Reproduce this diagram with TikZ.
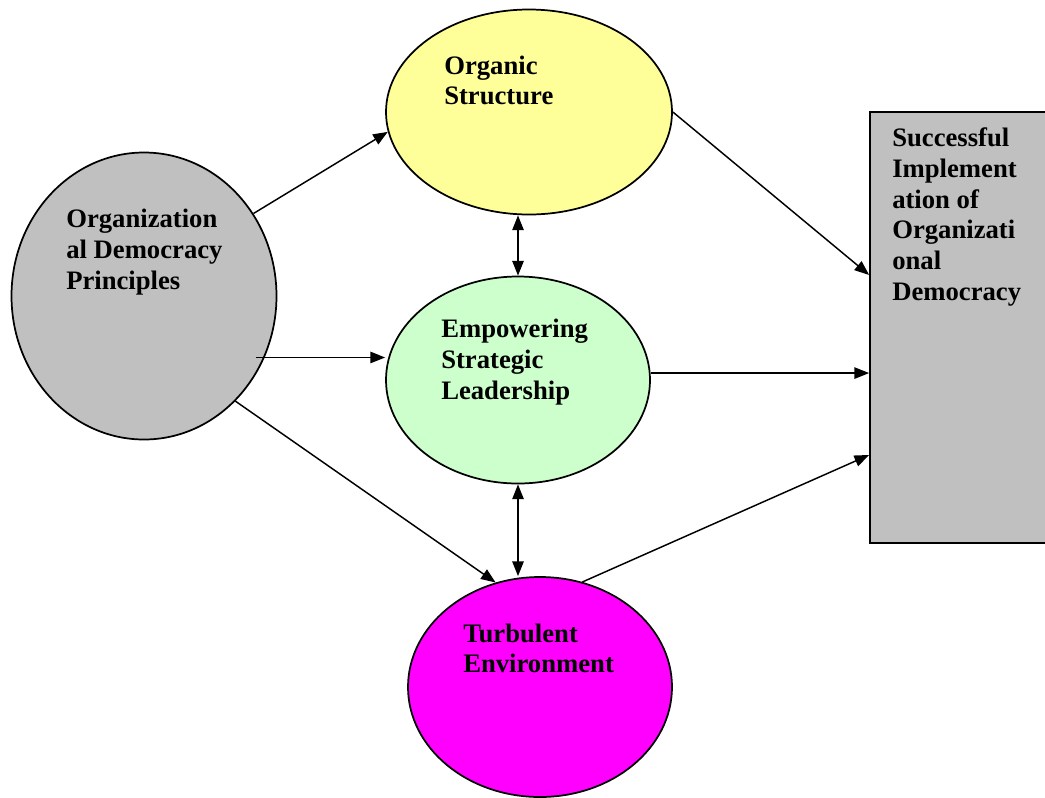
\documentclass[tikz,border=0pt]{standalone}
\usepackage{fontspec}
\setmainfont{Liberation Serif}
\usetikzlibrary{shapes.geometric}
\usetikzlibrary{arrows.meta}

\definecolor{demgrey}{RGB}{192,192,192}
\definecolor{orgyellow}{RGB}{255,255,153}
\definecolor{eslgreen}{RGB}{204,255,204}
\definecolor{envmagenta}{RGB}{255,0,255}

\tikzset{
  bubble/.style={draw, ellipse, line width=1.3pt, inner sep=0pt},
  link/.style={line width=1.1pt, -{Triangle[length=11pt,width=8.5pt]}},
  twoway/.style={line width=1.1pt, {Triangle[length=11pt,width=8.5pt]}-{Triangle[length=11pt,width=8.5pt]}},
  txt/.style={anchor=base west, inner sep=0pt, align=left, font=\fontsize{20}{23}\selectfont\bfseries}
}

\begin{document}
\begin{tikzpicture}[x=0.75pt,y=0.75pt,yscale=-1,xscale=1]
\useasboundingbox (0,0) rectangle (1045,797);

% shapes
\node[bubble, fill=demgrey, minimum width=198.75pt, minimum height=215.25pt] (dem) at (144,296) {};
\node[bubble, fill=orgyellow, minimum width=214.5pt, minimum height=153.75pt] (org) at (529,112) {};
\node[bubble, fill=eslgreen, minimum width=198pt, minimum height=155.25pt] (esl) at (518,380) {};
\node[bubble, fill=envmagenta, minimum width=198pt, minimum height=165pt] (env) at (540,687) {};
\node[draw, fill=demgrey, line width=1.3pt, inner sep=0pt, minimum width=172.5pt, minimum height=323.25pt] (res) at (985,327.5) {};

% arrows
\draw[link] (dem.37) -- (org.188);
\draw[link, shorten <=-6.75pt] (dem.-27) -- (dem.-27 -| esl.west);
\draw[link] (dem.-49) -- (env.113);
\draw[link] (org.east) -- ([yshift=-39.4pt]res.west);
\draw[link] (esl.3) -- (esl.3 -| res.west);
\draw[link] (env.68) -- ([yshift=95.6pt]res.west);
\draw[twoway] (esl.north |- org.south) -- (esl.north);
\draw[twoway] (esl.south) -- (esl.south |- env.north);

% texts (placed at the baseline of the last line)
\node[txt] (dem-txt) at (66,289.3) {Organization\\al Democracy\\Principles};
\node[txt] (org-txt) at (444,104.7) {Organic\\Structure};
\node[txt] (esl-txt) at (441,399.3) {Empowering\\Strategic\\Leadership};
\node[txt] (env-txt) at (463,672.7) {Turbulent\\Environment};
\node[txt] (res-txt) at (892,300.3) {Successful\\Implement\\ation of\\Organizati\\onal\\Democracy};

\end{tikzpicture}
\end{document}
